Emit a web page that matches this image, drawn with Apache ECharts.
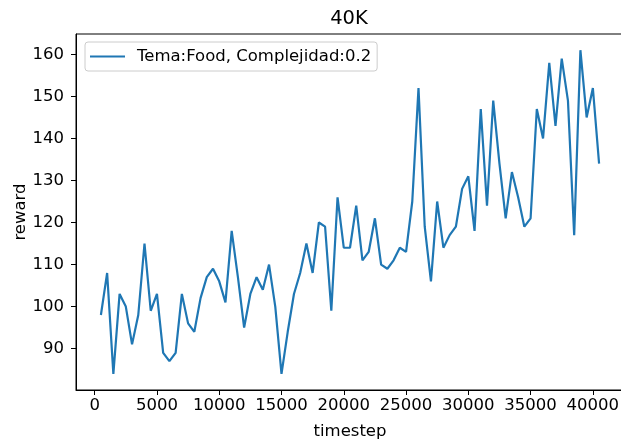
<!DOCTYPE html>
<html>
<head>
<meta charset="utf-8">
<script src="https://cdn.jsdelivr.net/npm/echarts@6/dist/echarts.min.js"></script>
<style>html,body{margin:0;padding:0;background:#fff}#c{width:621px;height:440px}</style>
</head>
<body>
<div id="c"></div>
<script>
const titleText = '40K';
const seriesName = 'Tema:Food, Complejidad:0.2';
const timesteps = [];
for (let t = 500; t <= 40500; t += 500) timesteps.push(t);
const rewards = [
  98,108,84,103,100,91,98,115,99,103,
  89,87,89,103,96,94,102,107,109,106,
  101,118,107,95,103,107,104,110,100,84,
  94,103,108,115,108,120,119,99,126,114,
  114,124,111,113,121,110,109,111,114,113,
  125,152,119,106,125,114,117,119,128,131,
  118,147,124,149,134,121,132,126,119,121,
  147,140,158,143,159,149,117,161,145,152,
  134
];
const xTicks = [0,5000,10000,15000,20000,25000,30000,35000,40000];
const yTicks = [90,100,110,120,130,140,150,160];

const FONT = 'DejaVu Sans';
const FS = 16.5;
const chart = echarts.init(document.getElementById('c'), null, {renderer:'canvas'});
chart.setOption({
  animation: false,
  backgroundColor: '#fff',
  title: {
    text: titleText, left: 349, top: 8, textAlign: 'center', padding: 0,
    textStyle: {fontFamily: FONT, fontSize: 19.5, fontWeight: 'normal', color: '#000', lineHeight: 22}
  },
  legend: {
    left: 85, top: 42, orient: 'vertical',
    padding: [6, 6, 6, 5],
    itemWidth: 35, itemHeight: 14,
    backgroundColor: 'rgba(255,255,255,0.8)',
    borderColor: '#cccccc', borderWidth: 1, borderRadius: 3,
    textStyle: {fontFamily: FONT, fontSize: FS, color: '#000', padding: [0,0,0,7]},
    data: [{name: seriesName, icon: 'path://M0,6L35,6L35,8.2L0,8.2Z'}]
  },
  grid: {left: 76, right: -3, top: 34, bottom: 50, show: true, borderColor: '#000', borderWidth: 1,
    containLabel: false, outerBoundsMode: 'none'},
  xAxis: {
    type: 'value', min: -1500, max: 42500,
    name: 'timestep', nameLocation: 'middle', nameGap: 33, nameMoveOverlap: false,
    nameTextStyle: {fontFamily: FONT, fontSize: FS, color: '#000'},
    axisLine: {show: true, onZero: false, lineStyle: {color: '#000', width: 1}},
    axisTick: {show: true, inside: false, length: 5, lineStyle: {color: '#000'}, customValues: xTicks},
    axisLabel: {fontFamily: FONT, fontSize: FS, color: '#000', margin: 7, customValues: xTicks,
      formatter: v => String(v)},
    splitLine: {show: false}
  },
  yAxis: {
    type: 'value', min: 80.15, max: 164.85,
    name: 'reward', nameLocation: 'middle', nameGap: 47, nameMoveOverlap: false,
    nameTextStyle: {fontFamily: FONT, fontSize: FS, color: '#000'},
    axisLine: {show: true, onZero: false, lineStyle: {color: '#000', width: 1}},
    axisTick: {show: true, inside: false, length: 5, lineStyle: {color: '#000'}, customValues: yTicks},
    axisLabel: {fontFamily: FONT, fontSize: FS, color: '#000', margin: 12, customValues: yTicks,
      formatter: v => String(v)},
    splitLine: {show: false}
  },
  series: [{
    name: seriesName, type: 'line',
    data: timesteps.map((t, i) => [t, rewards[i]]),
    symbol: 'none', showSymbol: false,
    lineStyle: {color: '#1f77b4', width: 2.2},
    itemStyle: {color: '#1f77b4'}
  }]
});
</script>
</body>
</html>
